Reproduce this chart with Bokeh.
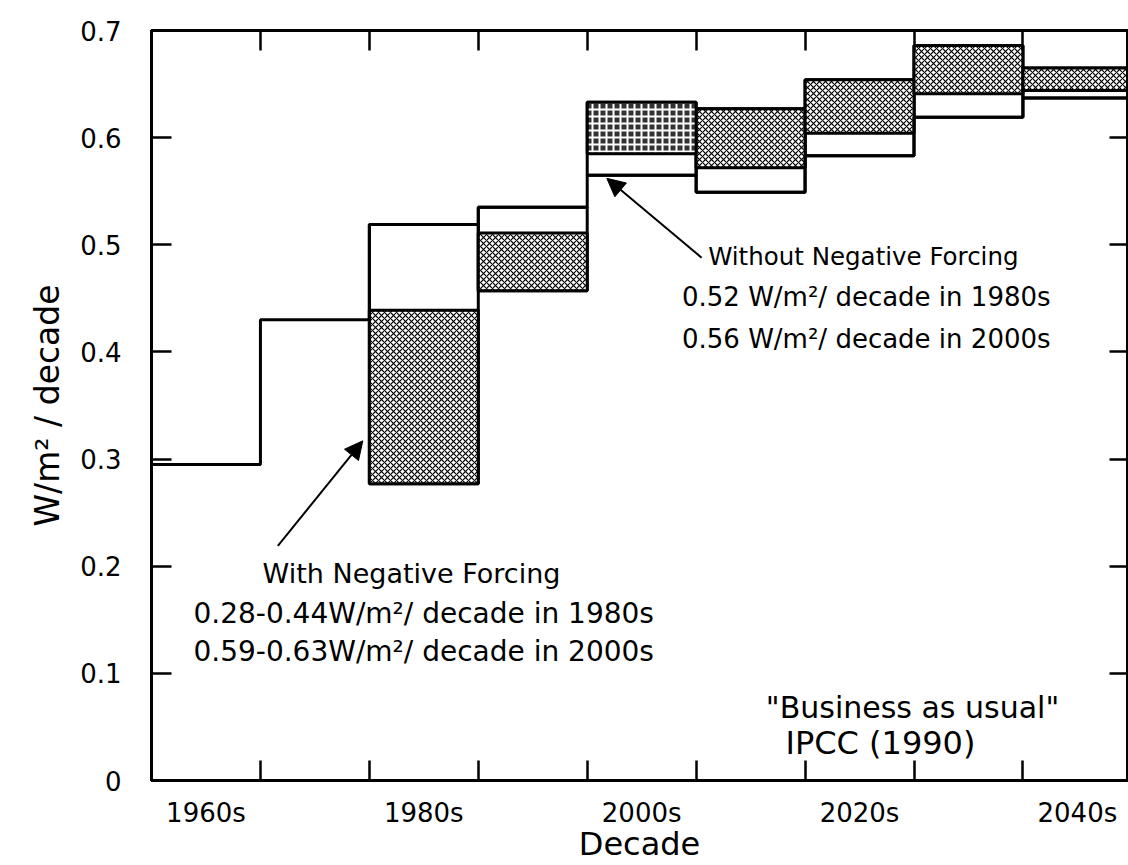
from bokeh.plotting import figure
from bokeh.models import Range1d, LinearAxis, FixedTicker, Arrow, NormalHead, ColumnDataSource
from bokeh.core.properties import value
from bokeh.embed import file_html
from bokeh.resources import INLINE

FONT = "DejaVu Sans"

# ---- data ----
decade_starts = [1960, 1970, 1980, 1990, 2000, 2010, 2020, 2030, 2040]
decade_end = 2050
without_forcing = [0.295, 0.430, 0.519, 0.535, 0.565, 0.549, 0.583, 0.619, 0.637]

box_starts = [1980, 1990, 2000, 2010, 2020, 2030, 2040]
with_lo = [0.277, 0.457, 0.585, 0.572, 0.604, 0.641, 0.644]
with_hi = [0.439, 0.511, 0.633, 0.627, 0.654, 0.686, 0.665]
box_pattern = ["dot", "dot", "grid", "dot", "dot", "dot", "dot"]

x_label_pos = [1965, 1985, 2005, 2025, 2045]
x_labels = ["1960s", "1980s", "2000s", "2020s", "2040s"]
x_tick_pos = [1970, 1980, 1990, 2000, 2010, 2020, 2030, 2040]
y_ticks = [0, 0.1, 0.2, 0.3, 0.4, 0.5, 0.6, 0.7]
y_labels = ["0", "0.1", "0.2", "0.3", "0.4", "0.5", "0.6", "0.7"]

# annotation texts (positions in data units)
without_head = ["Without Negative Forcing"]
without_head_x = [2011.1]
without_head_y = [0.489]
without_lines = ["0.52 W/m²/ decade in 1980s", "0.56 W/m²/ decade in 2000s"]
without_lines_x = [2008.7, 2008.7]
without_lines_y = [0.451, 0.412]

with_head = ["With Negative Forcing"]
with_head_x = [1970.2]
with_head_y = [0.193]
with_lines = ["0.28-0.44W/m²/ decade in 1980s", "0.59-0.63W/m²/ decade in 2000s"]
with_lines_x = [1963.85, 1963.85]
with_lines_y = [0.156, 0.120]

bau_text = ['"Business as usual"']
bau_x = [2016.4]
bau_y = [0.068]
ipcc_text = ["IPCC (1990)"]
ipcc_x = [2018.2]
ipcc_y = [0.035]

arrow_without = dict(x_start=2010.5, y_start=0.488, x_end=2001.8, y_end=0.562)
arrow_with = dict(x_start=1971.6, y_start=0.219, x_end=1979.4, y_end=0.317)

# ---- figure ----
p = figure(width=1128, height=865,
           x_range=Range1d(1960, 2049.6), y_range=Range1d(0, 0.7),
           x_axis_type=None, y_axis_type=None,
           output_backend="svg", toolbar_location=None,
           min_border_left=151, min_border_right=1,
           min_border_top=30, min_border_bottom=85)
p.xgrid.visible = False
p.ygrid.visible = False
p.outline_line_color = "black"
p.outline_line_width = 3
p.background_fill_color = "white"
p.border_fill_color = "white"

# outline rectangles for each decade with a box
lo_all = [min(w, l) for w, l in zip(without_forcing[2:], with_lo)]
hi_all = [max(w, h) for w, h in zip(without_forcing[2:], with_hi)]
src_out = ColumnDataSource(dict(left=box_starts, right=[b + 10 for b in box_starts],
                                bottom=lo_all, top=hi_all))
p.quad(left="left", right="right", bottom="bottom", top="top", source=src_out,
       fill_color=None, line_color="black", line_width=3)

dot_idx = [i for i, t in enumerate(box_pattern) if t == "dot"]
grid_idx = [i for i, t in enumerate(box_pattern) if t == "grid"]
src_dot = ColumnDataSource(dict(left=[box_starts[i] for i in dot_idx],
                                right=[box_starts[i] + 10 for i in dot_idx],
                                bottom=[with_lo[i] for i in dot_idx],
                                top=[with_hi[i] for i in dot_idx]))
p.quad(left="left", right="right", bottom="bottom", top="top", source=src_dot,
       fill_color="white", hatch_pattern="diagonal_cross", hatch_color="black",
       hatch_scale=6, hatch_weight=1.2, line_color="black", line_width=3)
src_grid = ColumnDataSource(dict(left=[box_starts[i] for i in grid_idx],
                                 right=[box_starts[i] + 10 for i in grid_idx],
                                 bottom=[with_lo[i] for i in grid_idx],
                                 top=[with_hi[i] for i in grid_idx]))
p.quad(left="left", right="right", bottom="bottom", top="top", source=src_grid,
       fill_color="#333333", hatch_pattern="cross", hatch_color="white",
       hatch_scale=7, hatch_weight=2, line_color="black", line_width=3)

# step line without negative forcing
p.step(x=decade_starts + [decade_end], y=without_forcing + [without_forcing[-1]],
       mode="after", line_color="black", line_width=3)

# ---- axes ----
left = LinearAxis(ticker=FixedTicker(ticks=y_ticks, minor_ticks=[]),
                  major_label_overrides={t: s for t, s in zip(y_ticks, y_labels)},
                  major_tick_in=20, major_tick_out=0, minor_tick_in=0, minor_tick_out=0,
                  axis_line_width=3, major_tick_line_width=2.5,
                  major_label_text_font=FONT, major_label_text_font_size="26px",
                  major_label_text_color="black",
                  major_label_standoff=30,
                  axis_label="W/m² / decade", axis_label_text_font=FONT,
                  axis_label_text_font_size="33px", axis_label_text_font_style="normal",
                  axis_label_text_color="black",
                  axis_label_standoff=10)
p.add_layout(left, "left")

right = LinearAxis(ticker=FixedTicker(ticks=y_ticks[1:-1], minor_ticks=[]),
                   major_label_text_font_size="0px", major_label_standoff=0,
                   major_tick_in=18, major_tick_out=0, minor_tick_in=0, minor_tick_out=0,
                   axis_line_width=3, major_tick_line_width=2.5)
p.add_layout(right, "right")

bottom = LinearAxis(ticker=FixedTicker(ticks=x_label_pos, minor_ticks=x_tick_pos),
                    major_label_overrides={t: s for t, s in zip(x_label_pos, x_labels)},
                    major_tick_in=0, major_tick_out=0, major_tick_line_color=None,
                    minor_tick_in=20, minor_tick_out=0, minor_tick_line_width=2.5,
                    axis_line_width=3,
                    major_label_text_font=FONT, major_label_text_font_size="26px",
                    major_label_text_color="black",
                    major_label_standoff=17,
                    axis_label="Decade", axis_label_text_font=FONT,
                    axis_label_text_font_size="32px", axis_label_text_font_style="normal",
                    axis_label_text_color="black",
                    axis_label_standoff=-6)
p.add_layout(bottom, "below")

top = LinearAxis(ticker=FixedTicker(ticks=x_label_pos, minor_ticks=x_tick_pos),
                 major_label_text_font_size="0px", major_label_standoff=0,
                 major_tick_in=0, major_tick_out=0, major_tick_line_color=None,
                 minor_tick_in=20, minor_tick_out=0, minor_tick_line_width=2.5,
                 axis_line_width=3)
p.add_layout(top, "above")

# ---- annotations ----
def add_text(xs, ys, texts, size):
    p.text(x=xs, y=ys, text=texts, text_font=value(FONT),
           text_font_size=value(size), text_baseline="alphabetic", text_align="left",
           text_color="black")

add_text(without_head_x, without_head_y, without_head, "24.5px")
add_text(without_lines_x, without_lines_y, without_lines, "26px")
add_text(with_head_x, with_head_y, with_head, "27px")
add_text(with_lines_x, with_lines_y, with_lines, "28px")
add_text(bau_x, bau_y, bau_text, "30px")
add_text(ipcc_x, ipcc_y, ipcc_text, "32px")

for a in (arrow_without, arrow_with):
    p.add_layout(Arrow(end=NormalHead(size=18, fill_color="black", line_color="black"),
                       line_color="black", line_width=2, **a))

open("out.html", "w").write(file_html(p, INLINE))
